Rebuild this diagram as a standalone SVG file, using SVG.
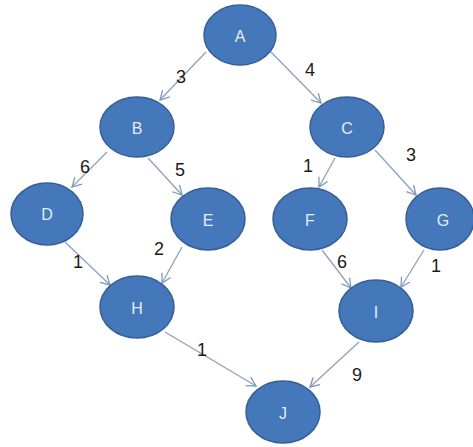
<svg xmlns="http://www.w3.org/2000/svg" width="473" height="447" viewBox="0 0 473 447">
<defs>
<marker id="arr" markerWidth="12" markerHeight="12" refX="10" refY="6" orient="auto" markerUnits="userSpaceOnUse">
<path d="M1,1 L10,6 L1,11" fill="none" stroke="#7f97bd" stroke-width="1.3"/>
</marker>
</defs>
<style>
.n ellipse{fill:#4577bb;stroke:#365f96;stroke-width:1.5}
.n text{fill:#e4ecf7;font-family:"Liberation Sans",Arial,sans-serif;font-size:16px;text-anchor:middle;dominant-baseline:central}
.e line{stroke:#8fa0bc;stroke-width:1.3;marker-end:url(#arr)}
.w{fill:#1a1a1a;font-family:"Liberation Sans",Arial,sans-serif;font-size:18px;text-anchor:middle;dominant-baseline:central}
</style>
<rect width="473" height="447" fill="#ffffff"/>
<g id="connectors" class="e">
<line x1="206" y1="52" x2="160" y2="100"/>
<line x1="271" y1="52" x2="321" y2="103"/>
<line x1="107" y1="152" x2="72" y2="187"/>
<line x1="148" y1="158" x2="182" y2="195"/>
<line x1="335" y1="158" x2="319" y2="187"/>
<line x1="375" y1="150" x2="416" y2="195"/>
<line x1="65" y1="242" x2="110" y2="285"/>
<line x1="182" y1="247" x2="162" y2="283"/>
<line x1="322" y1="250" x2="351" y2="288"/>
<line x1="424" y1="250" x2="401" y2="287"/>
<line x1="165" y1="332" x2="256" y2="386"/>
<line x1="359" y1="342" x2="310" y2="387"/>
</g>
<g id="weights">
<text class="w" x="181" y="77">3</text>
<text class="w" x="310" y="70">4</text>
<text class="w" x="85" y="167">6</text>
<text class="w" x="180" y="170">5</text>
<text class="w" x="308" y="166">1</text>
<text class="w" x="411" y="155">3</text>
<text class="w" x="78" y="262">1</text>
<text class="w" x="159" y="249">2</text>
<text class="w" x="342" y="262">6</text>
<text class="w" x="436" y="266">1</text>
<text class="w" x="202" y="350">1</text>
<text class="w" x="357" y="375">9</text>
</g>
<g id="A" class="n"><ellipse cx="240" cy="35" rx="36" ry="30"/><text x="240" y="36">A</text></g>
<g id="B" class="n"><ellipse cx="137" cy="127" rx="37" ry="30"/><text x="137" y="128">B</text></g>
<g id="C" class="n"><ellipse cx="347" cy="127" rx="37" ry="30"/><text x="347" y="128">C</text></g>
<g id="D" class="n"><ellipse cx="47" cy="214" rx="36" ry="31"/><text x="47" y="214">D</text></g>
<g id="E" class="n"><ellipse cx="208" cy="219" rx="37" ry="31"/><text x="208" y="220">E</text></g>
<g id="F" class="n"><ellipse cx="310" cy="219" rx="37" ry="31"/><text x="310" y="220">F</text></g>
<g id="G" class="n"><ellipse cx="440" cy="219" rx="34" ry="31"/><text x="443" y="220">G</text></g>
<g id="H" class="n"><ellipse cx="137" cy="307" rx="37" ry="31"/><text x="137" y="308">H</text></g>
<g id="I" class="n"><ellipse cx="376" cy="311" rx="37" ry="31"/><text x="376" y="312">I</text></g>
<g id="J" class="n"><ellipse cx="283" cy="412" rx="37" ry="31"/><text x="283" y="413">J</text></g>
</svg>
